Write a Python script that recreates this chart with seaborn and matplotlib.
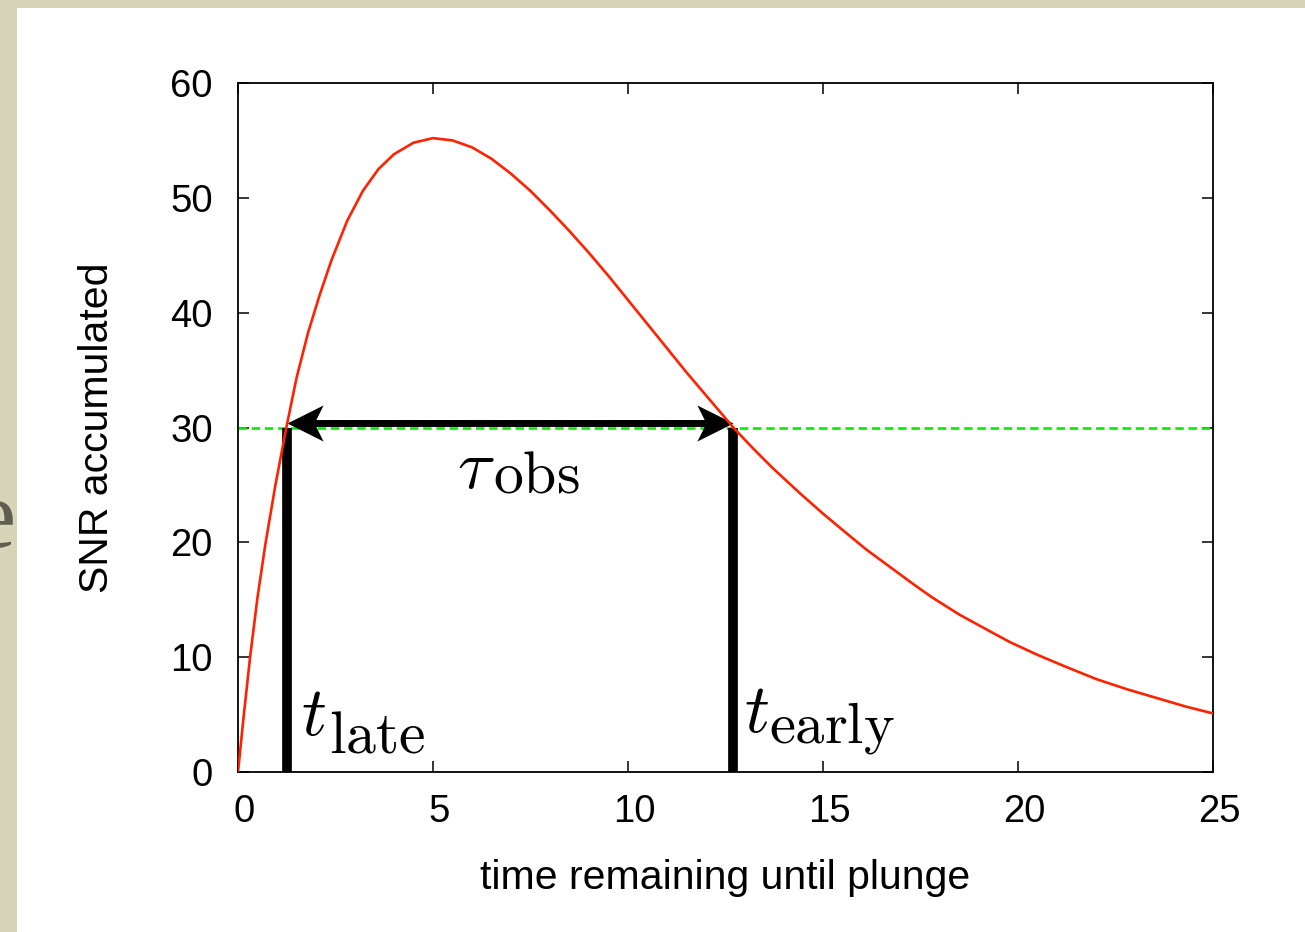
import matplotlib
matplotlib.use("Agg")
import matplotlib.pyplot as plt
import matplotlib.transforms as mtransforms
import seaborn as sns
import numpy as np
import pandas as pd
from matplotlib.path import Path
from matplotlib.patches import Rectangle

# ---------------- data ----------------
time_remaining = [0, 0.15, 0.31, 0.5, 0.7, 0.96, 1.24, 1.5, 1.8, 2.1, 2.4, 2.8,
                  3.2, 3.6, 4.0, 4.5, 5.0, 5.5, 6.0, 6.5, 7.0, 7.5, 8.0, 8.5,
                  9.0, 9.5, 10.0, 10.5, 11.0, 11.5, 12.0, 12.7, 13.2, 13.7, 14.4,
                  15.0, 15.6, 16.1, 16.7, 17.3, 17.8, 18.5, 19.2, 19.8, 20.5,
                  21.2, 22.0, 22.8, 23.6, 24.3, 25.0]
snr_accumulated = [0, 5.0, 10.0, 15.2, 19.8, 25.0, 30.0, 34.3, 38.3, 41.6, 44.6, 48.0,
                   50.6, 52.5, 53.8, 54.8, 55.2, 55.0, 54.4, 53.4, 52.1, 50.6, 48.9, 47.1,
                   45.2, 43.2, 41.1, 39.0, 36.9, 34.8, 32.8, 30.0, 28.2, 26.5, 24.3,
                   22.5, 20.8, 19.4, 17.9, 16.4, 15.2, 13.7, 12.4, 11.3, 10.2,
                   9.2, 8.1, 7.2, 6.4, 5.7, 5.1]
snr_threshold = 30
t_late = 1.26
t_early = 12.7
arrow_y = 30.4
x_ticks = [0, 5, 10, 15, 20, 25]
y_ticks = [0, 10, 20, 30, 40, 50, 60]

df = pd.DataFrame({"t": time_remaining, "snr": snr_accumulated})

# ---------------- style ----------------
sns.set_style("ticks")
plt.rcParams["font.family"] = ["Liberation Sans", "DejaVu Sans"]
plt.rcParams["mathtext.fontset"] = "cm"
plt.rcParams["text.color"] = "black"
plt.rcParams["axes.labelcolor"] = "black"

W, H = 1305, 932
fig = plt.figure(figsize=(W / 100, H / 100), dpi=100)
fig.patch.set_facecolor("#d7d5b9")

# white slide panel and the slide letters partly hidden behind it
fig.text(15.5 / W, (H - 547) / H, "e", fontsize=70, family="Liberation Serif",
         color="#5f5e50", ha="right", va="baseline", zorder=-3)
fig.text(6 / W, (H - 776) / H, ".", fontsize=70, family="Liberation Serif",
         color="#5f5e50", ha="right", va="baseline", zorder=-3)
fig.patches.append(Rectangle((17 / W, 0), 1, (H - 8) / H, transform=fig.transFigure,
                             facecolor="white", edgecolor="none", zorder=-1))

ax = fig.add_axes([238 / W, (H - 772) / H, (1213 - 238) / W, (772 - 83) / H])
ax.set_facecolor("white")

# threshold line
ax.axhline(snr_threshold, color="#00ee00", lw=1.9, dashes=(3.2, 1.8), zorder=2)

# vertical bars at t_late, t_early
ax.vlines([t_late, t_early], 0, snr_threshold, colors="black", lw=7,
          capstyle="butt", zorder=3, clip_on=False)

# double arrow
head_len = 0.70
ax.plot([t_late + head_len, t_early - head_len], [arrow_y, arrow_y],
        color="black", lw=5, solid_capstyle="butt", zorder=4)
right_head = Path([(0, 0), (-1, 0.5), (-0.75, 0), (-1, -0.5), (0, 0)],
                  [Path.MOVETO, Path.LINETO, Path.LINETO, Path.LINETO, Path.CLOSEPOLY])
left_head = Path([(0, 0), (1, 0.5), (0.75, 0), (1, -0.5), (0, 0)],
                 [Path.MOVETO, Path.LINETO, Path.LINETO, Path.LINETO, Path.CLOSEPOLY])
ax.plot([t_early], [arrow_y], marker=right_head, ms=52, color="black",
        markeredgewidth=0, zorder=4, clip_on=False)
ax.plot([t_late], [arrow_y], marker=left_head, ms=52, color="black",
        markeredgewidth=0, zorder=4, clip_on=False)

# SNR curve
sns.lineplot(data=df, x="t", y="snr", ax=ax, color="#ff2200", lw=1.9,
             sort=False, errorbar=None, zorder=5)

# annotations: main symbol + larger-than-default subscript
def sym(x, y, main, sub, dx, dy, subsize=43):
    ax.annotate(main, xy=(x, y), xycoords="data", fontsize=50, color="black",
                ha="left", va="baseline", zorder=6)
    ax.annotate(sub, xy=(x, y), xycoords="data", xytext=(dx, dy),
                textcoords="offset points", fontsize=subsize, color="black",
                ha="left", va="baseline", zorder=6)

sym(1.615, 3.20, r"$t$", r"$\mathrm{late}$", 20.5, -12.5)
sym(12.97, 3.48, r"$t$", r"$\mathrm{early}$", 18, -7.5, subsize=42)
sym(5.615, 24.75, r"$\tau$", r"$\mathrm{obs}$", 26, -3.6)

# axes
ax.set_xlim(0, 25)
ax.set_ylim(0, 60)
ax.set_xticks(x_ticks)
ax.set_yticks(y_ticks)
ax.tick_params(axis="both", which="major", direction="in", length=8, width=1.1,
               labelsize=27.5, top=True, right=True, color="black", labelcolor="black")
ax.tick_params(axis="x", pad=16)
ax.tick_params(axis="y", pad=18)
shift = mtransforms.ScaledTranslation(6 / 100, 0, fig.dpi_scale_trans)
for lab in ax.get_xticklabels():
    lab.set_transform(lab.get_transform() + shift)
for s in ax.spines.values():
    s.set_visible(True)
    s.set_linewidth(1.3)
    s.set_color("black")

ax.set_xlabel("time remaining until plunge", fontsize=29.5, color="black")
ax.set_ylabel("SNR accumulated", fontsize=29.5, color="black", va="center")
ax.xaxis.set_label_coords(0.5, -0.126)
ax.yaxis.set_label_coords(-0.1446, 0.5)
ax.grid(False)

fig.savefig("out.png", dpi=100, facecolor=fig.get_facecolor())
